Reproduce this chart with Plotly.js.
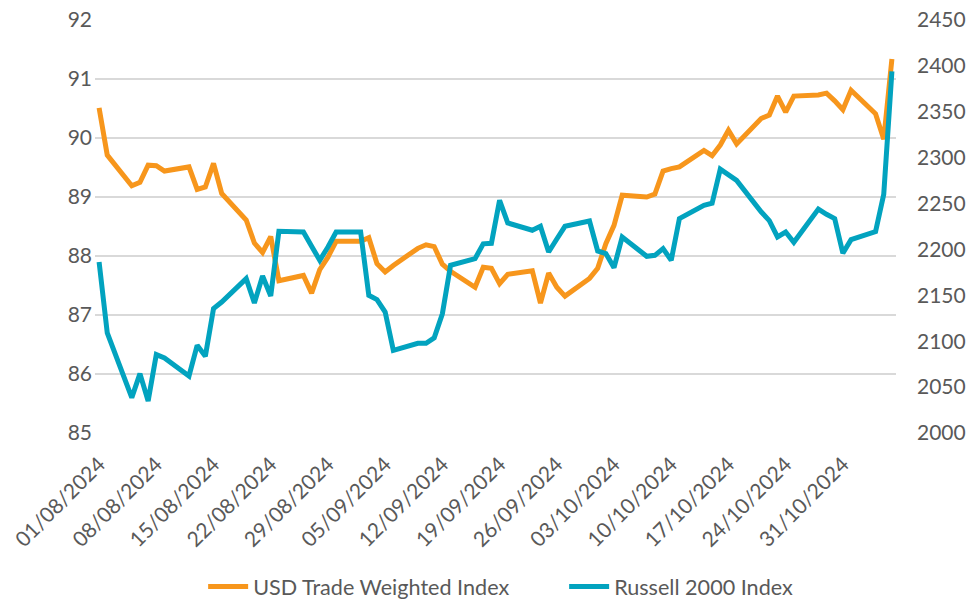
<!DOCTYPE html>
<html>
<head>
<meta charset="utf-8">
<script src="https://cdn.plot.ly/plotly-3.0.1.min.js"></script>
<style>
  html, body { margin: 0; padding: 0; background: #ffffff; }
  #chart { width: 971px; height: 602px; }
</style>
</head>
<body>
<div id="chart"></div>
<script>
const dates = [
  '2024-08-01','2024-08-02','2024-08-05','2024-08-06','2024-08-07','2024-08-08','2024-08-09',
  '2024-08-12','2024-08-13','2024-08-14','2024-08-15','2024-08-16',
  '2024-08-19','2024-08-20','2024-08-21','2024-08-22','2024-08-23',
  '2024-08-26','2024-08-27','2024-08-28','2024-08-29','2024-08-30',
  '2024-09-02','2024-09-03','2024-09-04','2024-09-05','2024-09-06',
  '2024-09-09','2024-09-10','2024-09-11','2024-09-12','2024-09-13',
  '2024-09-16','2024-09-17','2024-09-18','2024-09-19','2024-09-20',
  '2024-09-23','2024-09-24','2024-09-25','2024-09-26','2024-09-27',
  '2024-09-30','2024-10-01','2024-10-02','2024-10-03','2024-10-04',
  '2024-10-07','2024-10-08','2024-10-09','2024-10-10','2024-10-11',
  '2024-10-14','2024-10-15','2024-10-16','2024-10-17','2024-10-18',
  '2024-10-21','2024-10-22','2024-10-23','2024-10-24','2024-10-25',
  '2024-10-28','2024-10-29','2024-10-30','2024-10-31','2024-11-01',
  '2024-11-04','2024-11-05','2024-11-06'
];

const usdTradeWeighted = [
  90.51, 89.71, 89.19, 89.25, 89.54, 89.53, 89.44,
  89.51, 89.13, 89.17, 89.57, 89.06,
  88.61, 88.22, 88.06, 88.33, 87.58,
  87.67, 87.37, 87.77, 87.98, 88.25,
  88.25, 88.31, 87.87, 87.73, 87.84,
  88.13, 88.19, 88.16, 87.86, 87.74,
  87.47, 87.81, 87.79, 87.53, 87.69,
  87.75, 87.20, 87.71, 87.47, 87.32,
  87.62, 87.79, 88.21, 88.52, 89.03,
  89.00, 89.05, 89.44, 89.48, 89.51,
  89.79, 89.70, 89.88, 90.13, 89.90,
  90.33, 90.39, 90.71, 90.44, 90.71,
  90.73, 90.76, 90.63, 90.48, 90.81,
  90.41, 89.98, 91.34
];

const russell2000 = [
  2186.3, 2109.0, 2038.6, 2064.7, 2034.9, 2085.4, 2081.7,
  2062.1, 2095.5, 2083.6, 2135.5, 2142.7,
  2168.2, 2141.6, 2171.1, 2149.3, 2219.8,
  2219.0, 2203.4, 2188.2, 2202.7, 2219.0,
  2219.0, 2150.0, 2145.3, 2131.8, 2090.1,
  2097.7, 2097.7, 2103.7, 2129.9, 2182.7,
  2190.0, 2206.1, 2206.7, 2253.5, 2228.8,
  2220.9, 2225.2, 2197.2, 2211.4, 2225.2,
  2231.0, 2198.3, 2195.5, 2180.2, 2213.6,
  2192.5, 2193.6, 2200.9, 2188.2, 2233.6,
  2248.1, 2250.3, 2287.5, 2281.3, 2275.3,
  2241.0, 2231.4, 2213.6, 2219.0, 2207.8,
  2244.0, 2238.3, 2233.6, 2195.8, 2210.7,
  2219.5, 2260.1, 2394.1
];

const seriesNames = ['USD Trade Weighted Index', 'Russell 2000 Index'];

const textColor = '#595959';
const fontFamily = 'Lato, "Open Sans", sans-serif';

const traces = [
  {
    x: dates, y: usdTradeWeighted, name: seriesNames[0],
    type: 'scatter', mode: 'lines', yaxis: 'y',
    line: { color: '#F7961C', width: 5 }
  },
  {
    x: dates, y: russell2000, name: seriesNames[1],
    type: 'scatter', mode: 'lines', yaxis: 'y2',
    line: { color: '#02A3BF', width: 5 }
  }
];

const layout = {
  width: 971, height: 602,
  margin: { l: 95, r: 75, t: 20, b: 169, autoexpand: false },
  paper_bgcolor: '#ffffff', plot_bgcolor: '#ffffff',
  font: { family: fontFamily, size: 21, color: textColor },
  showlegend: true,
  legend: {
    orientation: 'h', x: 0.135, xanchor: 'left', y: -0.373, yanchor: 'middle',
    font: { family: fontFamily, size: 21.6, color: textColor },
    entrywidth: 306, entrywidthmode: 'pixels',
    itemwidth: 40, tracegroupgap: 0
  },
  xaxis: {
    type: 'date', automargin: false,
    range: ['2024-07-31 12:00', '2024-11-06 12:00'],
    tick0: '2024-08-01', dtick: 7 * 86400000,
    tickformat: '%d/%m/%Y', tickangle: -45,
    showgrid: false, zeroline: false, showline: false,
    ticks: '', ticklabelstandoff: 14,
    tickfont: { family: fontFamily, size: 21, color: textColor }
  },
  yaxis: {
    range: [85, 92], dtick: 1, tick0: 85, automargin: false,
    showgrid: true, gridcolor: '#d9d9d9', gridwidth: 2,
    zeroline: false, showline: false, ticks: '',
    ticklabelstandoff: 2,
    tickfont: { family: fontFamily, size: 21, color: textColor }
  },
  yaxis2: {
    range: [2000, 2450], dtick: 50, tick0: 2000, automargin: false,
    overlaying: 'y', side: 'right',
    showgrid: false, zeroline: false, showline: false, ticks: '',
    ticklabelstandoff: 20,
    tickfont: { family: fontFamily, size: 21, color: textColor }
  }
};

Plotly.newPlot('chart', traces, layout, { displayModeBar: false, staticPlot: true });
</script>
</body>
</html>
